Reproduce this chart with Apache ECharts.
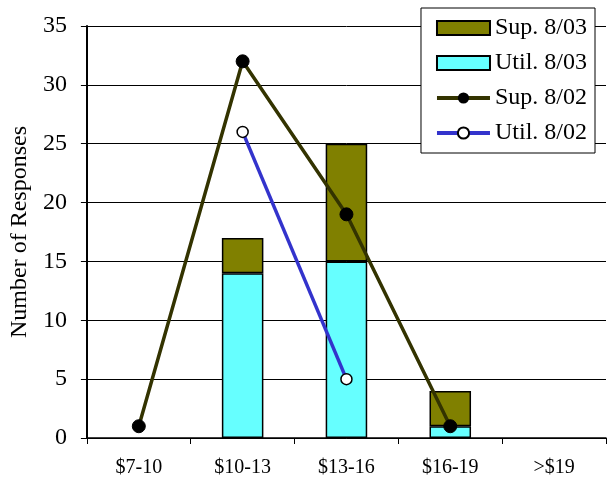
<!DOCTYPE html>
<html><head><meta charset="utf-8">
<script src="https://cdn.jsdelivr.net/npm/echarts@6/dist/echarts.min.js"></script>
<style>html,body{margin:0;padding:0;background:#fff}#c{width:607px;height:479px}</style>
</head><body><div id="c"></div>
<script>
const categories = ['$7-10', '$10-13', '$13-16', '$16-19', '>$19'];
const util803 = [null, 14, 15, 1, null];
const sup803 = [null, 3, 10, 3, null];
const sup802 = [1, 32, 19, 1, null];
const util802 = [null, 26, 5, null, null];
const yTicks = [0, 5, 10, 15, 20, 25, 30, 35];

const font = "'Liberation Serif', 'Times New Roman', serif";
const chart = echarts.init(document.getElementById('c'));
chart.setOption({
  animation: false,
  textStyle: { fontFamily: font },
  grid: { left: 85, right: 1, top: 26, bottom: 41 },
  legend: {
    orient: 'vertical', right: 12, top: 8,
    backgroundColor: '#fff', borderColor: '#000', borderWidth: 1,
    padding: [8, 8, 8, 14], itemGap: 11, itemWidth: 53, itemHeight: 14,
    textStyle: { fontFamily: font, fontSize: 24, color: '#000' },
    data: [
      { name: 'Sup. 8/03', icon: 'rect' },
      { name: 'Util. 8/03', icon: 'rect' },
      { name: 'Sup. 8/02', lineStyle: { width: 4, color: '#333300' } },
      { name: 'Util. 8/02', lineStyle: { width: 4, color: '#3333cc' } }
    ]
  },
  xAxis: {
    type: 'category', data: categories,
    axisLine: { lineStyle: { color: '#000', width: 1.5 } },
    axisTick: { show: true, length: 6, lineStyle: { color: '#000' } },
    axisLabel: { fontFamily: font, fontSize: 20, color: '#000', margin: 20 }
  },
  yAxis: {
    type: 'value', min: 0, max: 35, interval: 5,
    name: 'Number of Responses', nameLocation: 'middle', nameGap: 52,
    nameTextStyle: { fontFamily: font, fontSize: 24, color: '#000' },
    axisLine: { show: true, lineStyle: { color: '#000', width: 2 } },
    axisTick: { show: true, length: 6, lineStyle: { color: '#000' } },
    axisLabel: { fontFamily: font, fontSize: 24, color: '#000', margin: 20,
      formatter: v => yTicks.includes(v) ? String(v) : '' },
    splitLine: { show: true, lineStyle: { color: '#000', width: 1 } }
  },
  series: [
    { name: 'Util. 8/03', type: 'bar', stack: 'a', data: util803, barWidth: '40%',
      itemStyle: { color: '#66ffff', borderColor: '#000', borderWidth: 1.5 } },
    { name: 'Sup. 8/03', type: 'bar', stack: 'a', data: sup803, barWidth: '40%',
      itemStyle: { color: '#808000', borderColor: '#000', borderWidth: 1.5 } },
    { name: 'Sup. 8/02', type: 'line', data: sup802, symbol: 'circle', symbolSize: 13,
      lineStyle: { color: '#333300', width: 3.5 },
      itemStyle: { color: '#000', borderColor: '#000' } },
    { name: 'Util. 8/02', type: 'line', data: util802, symbol: 'circle', symbolSize: 11,
      lineStyle: { color: '#3333cc', width: 3.5 },
      itemStyle: { color: '#fff', borderColor: '#000', borderWidth: 1.5 } }
  ]
});
</script></body></html>
